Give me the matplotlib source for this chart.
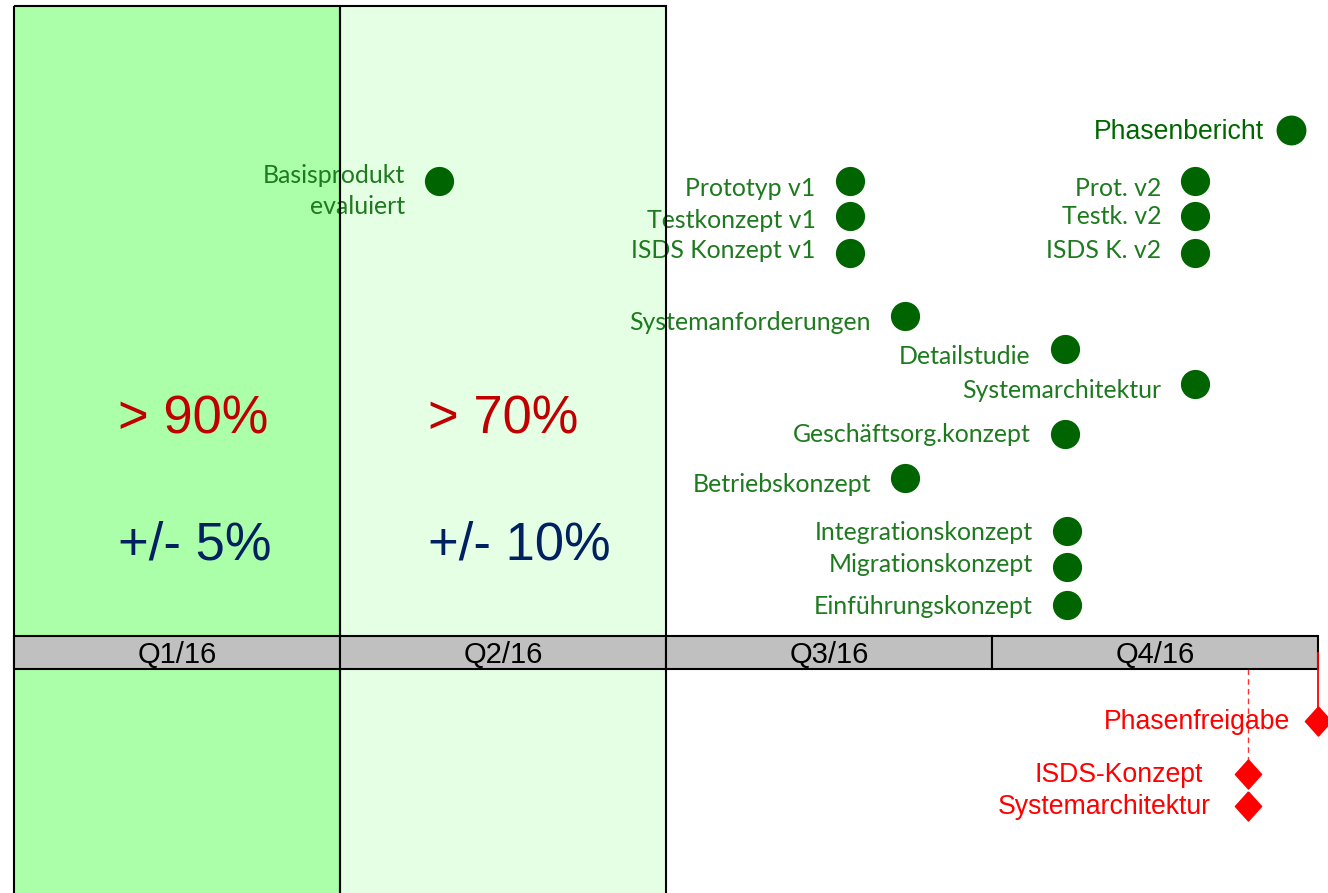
import matplotlib
matplotlib.use("Agg")
import matplotlib.pyplot as plt
from matplotlib.patches import Rectangle

# ---------------- data ----------------
quarters = ["Q1/16", "Q2/16", "Q3/16", "Q4/16"]

# green milestones: label, month (0..12 across 2016), row position (top = small)
green_labels = ["Basisprodukt\nevaluiert", "Prototyp v1", "Testkonzept v1", "ISDS Konzept v1",
                "Systemanforderungen", "Detailstudie", "Systemarchitektur",
                "Geschäftsorg.konzept", "Betriebskonzept", "Integrationskonzept",
                "Migrationskonzept", "Einführungskonzept",
                "Prot. v2", "Testk. v2", "ISDS K. v2"]
green_month = [3.91, 7.69, 7.69, 7.69, 8.20, 9.67, 10.87, 9.67, 8.20, 9.69, 9.69, 9.69,
               10.87, 10.87, 10.87]
green_row = [181, 181, 216, 253, 316, 349, 384, 434, 478, 531, 567, 605, 181, 216, 253]

report_label = ["Phasenbericht"]
report_month = [11.75]
report_row = [130]

red_labels = ["Phasenfreigabe", "ISDS-Konzept", "Systemarchitektur"]
red_month = [12.0, 11.36, 11.36]
red_row = [721, 774, 806]

conf_labels = ["> 90%", "> 70%"]
tol_labels = ["+/- 5%", "+/- 10%"]

# ---------------- layout / style ----------------
W, H = 1328, 893
fig = plt.figure(figsize=(W / 100, H / 100), dpi=100)
ax = fig.add_axes([0, 0, 1, 1])
px_per_month = 326 / 3
x0 = -14 / px_per_month
ax.set_xlim(x0, x0 + W / px_per_month)
ax.set_ylim(H, 0)
ax.axis("off")

PX = 72 / 100  # points per pixel

bar_top, bar_h = 636, 33
col_top = 6

# shaded columns (Q1, Q2)
col_colors = ["#ABFFA8", "#E5FFE5"]
for i, c in enumerate(col_colors):
    ax.add_patch(Rectangle((3 * i, col_top), 3, H + 20 - col_top, facecolor=c,
                           edgecolor="none", zorder=0))
    ax.add_patch(Rectangle((3 * i, col_top), 3, H + 20 - col_top, facecolor="none",
                           edgecolor="black", lw=1.5, zorder=5))

# quarter bar
for i, q in enumerate(quarters):
    ax.add_patch(Rectangle((3 * i, bar_top), 3, bar_h, facecolor="#C0C0C0",
                           edgecolor="black", lw=1.5, zorder=6))
    ax.text(3 * i + 1.5, bar_top + bar_h / 2 + 2, q, ha="center", va="center",
            fontsize=21, family="Liberation Sans", color="black", zorder=7)

# confidence / tolerance texts
conf_x = [0.957, 3.81]
for i in range(2):
    ax.text(conf_x[i], 419, conf_labels[i], ha="left", va="center", fontsize=37.8,
            family="Liberation Sans", color="#C00000", zorder=3)
    ax.text(conf_x[i], 546, tol_labels[i], ha="left", va="center", fontsize=37.8,
            family="Liberation Sans", color="#002060", zorder=3)

# green milestones
gcol = "#006400"
tcol = "#1E7A1E"
label_dy = [10, 8, 4, -3, 7, 7, 7, 1, 6, 2, -3, 2, 7, 1, -2]  # px, label shift down
ax.plot(green_month, green_row, "o", ms=20, color=gcol, mec=gcol, zorder=8, ls="none")
for lab, m, r, d in zip(green_labels, green_month, green_row, label_dy):
    ax.annotate(lab, (m, r), xytext=(-34 * PX, -d * PX), textcoords="offset points",
                ha="right", va="center", fontsize=17.9, family="Lato", fontweight="normal",
                color=tcol, linespacing=1.45, zorder=4)

ax.plot(report_month, report_row, "o", ms=20.5, color=gcol, mec=gcol, zorder=8, ls="none")
for lab, m, r in zip(report_label, report_month, report_row):
    ax.annotate(lab, (m, r), xytext=(-27 * PX, -2 * PX), textcoords="offset points",
                ha="right", va="center", fontsize=19.2, family="Liberation Sans",
                color="#006600", zorder=4)

# red milestones (diamonds) with connector lines
rcol = "#FF0000"
ax.plot([red_month[0], red_month[0]], [bar_top + bar_h / 2, red_row[0]], color=rcol,
        lw=1.3, zorder=7)
ax.plot([red_month[1], red_month[1]], [bar_top + bar_h, red_row[1]], color="#FF3030",
        lw=1.0, ls=(0, (4, 3)), zorder=2)
diamond = [(0, 1), (0.9, 0), (0, -1), (-0.9, 0), (0, 1)]
ax.plot(red_month, red_row, marker=diamond, ms=21, color=rcol, mec=rcol, ls="none",
        zorder=8)
red_gap = [28, 46, 38]
for lab, m, r, g in zip(red_labels, red_month, red_row, red_gap):
    ax.annotate(lab, (m, r), xytext=(-g * PX, -1 * PX), textcoords="offset points",
                ha="right", va="center", fontsize=19.2, family="Liberation Sans",
                color=rcol, zorder=4)

fig.savefig("out.png", dpi=100)
